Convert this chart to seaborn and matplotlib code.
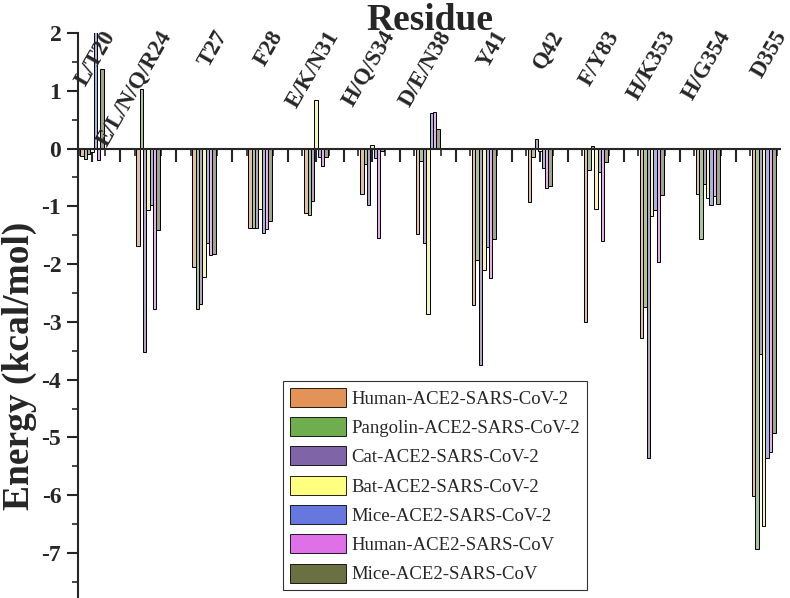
import numpy as np
import pandas as pd
import matplotlib
matplotlib.use('Agg')
import matplotlib.pyplot as plt
from matplotlib.patches import Patch
from matplotlib.ticker import MultipleLocator, FixedLocator
import seaborn as sns

sns.set_style('white')
plt.rcParams['font.family'] = ['Liberation Serif', 'DejaVu Serif']
plt.rcParams['axes.unicode_minus'] = False

residues = ['L/T20', 'E/L/N/Q/R24', 'T27', 'F28', 'E/K/N31', 'H/Q/S34', 'D/E/N38',
            'Y41', 'Q42', 'F/Y83', 'H/K353', 'H/G354', 'D355']

series = ['Human-ACE2-SARS-CoV-2', 'Pangolin-ACE2-SARS-CoV-2', 'Cat-ACE2-SARS-CoV-2',
          'Bat-ACE2-SARS-CoV-2', 'Mice-ACE2-SARS-CoV-2', 'Human-ACE2-SARS-CoV',
          'Mice-ACE2-SARS-CoV']

human_cov2 = [-0.13, -1.68, -2.05, -1.37, -1.12, -0.78, -1.48, -2.70, -0.92, -3.00, -3.28, -0.79, -6.02]
pangolin_cov2 = [-0.18, 1.03, -2.77, -1.38, -1.15, -0.26, -0.22, -1.93, -0.14, -0.37, -2.75, -1.57, -6.93]
cat_cov2 = [-0.10, -3.52, -2.69, -1.37, -0.90, -0.98, -1.63, -3.74, 0.16, 0.04, -5.35, -0.61, -3.56]
bat_cov2 = [-0.06, -1.07, -2.22, -1.05, 0.84, 0.06, -2.87, -2.11, -0.05, -1.05, -1.17, -0.86, -6.54]
mice_cov2 = [2.40, -0.98, -1.64, -1.47, -0.15, -0.17, 0.62, -1.71, -0.33, -0.41, -1.06, -0.98, -5.36]
human_cov = [-0.20, -2.78, -1.85, -1.40, -0.30, -1.54, 0.63, -2.24, -0.69, -1.60, -1.96, -0.82, -5.25]
mice_cov = [1.37, -1.41, -1.83, -1.25, -0.15, -0.05, 0.34, -1.57, -0.64, -0.24, -0.80, -0.96, -4.92]

colors = ['#E39358', '#6FAE4E', '#8064A8', '#FFFF80', '#6678E0', '#E070E8', '#6B7042']

values = [human_cov2, pangolin_cov2, cat_cov2, bat_cov2, mice_cov2, human_cov, mice_cov]
df = pd.DataFrame({
    'Residue': residues * len(series),
    'Series': [s for s in series for _ in residues],
    'Energy': [v for vals in values for v in vals],
})

# lighter face colours for the bars (legend keeps the full colours)
alpha = 0.62
bar_colors = [tuple(1 - alpha * (1 - c) for c in matplotlib.colors.to_rgb(col)) for col in colors]

fig = plt.figure(figsize=(7.9, 5.98), dpi=100)
ax = fig.add_axes([78 / 790, 0.0, 702 / 790, 565 / 598])

sns.barplot(data=df, x='Residue', y='Energy', hue='Series', order=residues,
            hue_order=series, palette=bar_colors, width=0.42, gap=0,
            edgecolor='black', linewidth=0.7, legend=False, ax=ax)

ax.set_xlim(-0.25, 12.29)
ax.set_ylim(-7.78, 2)

for s in ['top', 'right']:
    ax.spines[s].set_visible(False)
ax.spines['bottom'].set_position(('data', 0))
ax.spines['bottom'].set_linewidth(1.5)
ax.spines['left'].set_linewidth(1.5)
ax.spines['bottom'].set_zorder(5)

# x ticks: long between groups and at centres, short at group edges
n = len(residues)
major = [i for i in range(n)] + [i + 0.5 for i in range(n - 1)]
minor = [i + d for i in range(n) for d in (-0.24, 0.24)]
ax.xaxis.set_major_locator(FixedLocator(major))
ax.xaxis.set_minor_locator(FixedLocator(minor))
ax.tick_params(axis='x', which='major', direction='out', length=9, width=1.5,
               labelbottom=False, bottom=True)
ax.tick_params(axis='x', which='minor', direction='out', length=5, width=1.2, bottom=True)
ax.set_xlabel('')

ax.yaxis.set_major_locator(MultipleLocator(1))
ax.yaxis.set_minor_locator(MultipleLocator(0.5))
ax.tick_params(axis='y', which='major', direction='out', length=8, width=1.5,
               labelsize=17, left=True, pad=4)
ax.tick_params(axis='y', which='minor', direction='out', length=4, width=1.2, left=True)
for lab in ax.get_yticklabels():
    lab.set_fontweight('bold')
ax.set_ylabel('')

for i, name in enumerate(residues):
    ax.text(i + 0.17, 2.1, name, rotation=60, rotation_mode='anchor',
            ha='right', va='top', fontsize=16.5, fontweight='bold', clip_on=False)

fig.text(0.544, 0.995, 'Residue', ha='center', va='top', fontsize=27, fontweight='bold')
fig.text(0.024, 0.388, 'Energy (kcal/mol)', ha='center', va='center', rotation=90,
         fontsize=27, fontweight='bold')

handles = [Patch(facecolor=c, edgecolor='black', linewidth=0.6) for c in colors]
leg = ax.legend(handles, series, loc='lower left', bbox_to_anchor=(283 / 790, 8 / 598),
                bbox_transform=fig.transFigure, frameon=True, fancybox=False,
                fontsize=13.5, handlelength=3.0, handleheight=1.2, labelspacing=0.5,
                handletextpad=0.3, borderpad=0.35, borderaxespad=0)
leg.get_frame().set_edgecolor('black')
leg.get_frame().set_linewidth(0.8)

fig.savefig('out.png', dpi=100)
plt.close(fig)
